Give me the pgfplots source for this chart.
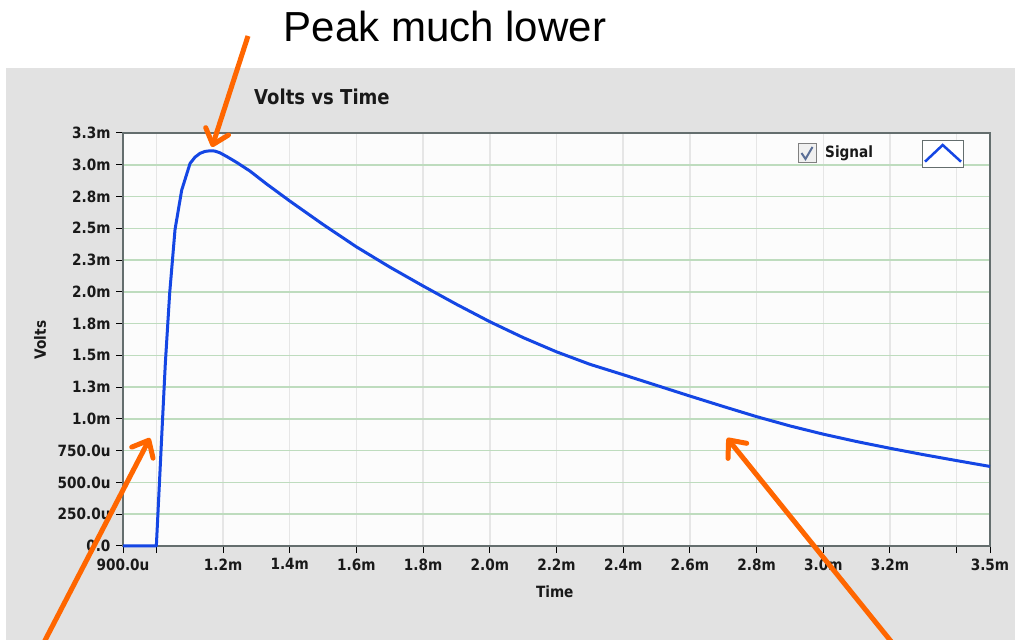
\documentclass[border=0pt]{standalone}
\usepackage{pgfplots}
\pgfplotsset{compat=1.18}
\usepackage{fontspec}
\usetikzlibrary{arrows.meta}
\setmainfont{DejaVu Sans}
\newfontfamily\lv{DejaVu Sans}[FakeStretch=0.88]
\newfontfamily\arialf{Liberation Sans}
\definecolor{panel}{RGB}{226,226,226}
\definecolor{plotbg}{RGB}{252,252,252}
\definecolor{border}{RGB}{100,110,110}
\definecolor{ggrid}{RGB}{190,220,190}
\definecolor{vgrid}{RGB}{230,230,230}
\definecolor{sig}{RGB}{20,70,228}
\definecolor{arr}{RGB}{255,102,0}
\definecolor{chk}{RGB}{90,110,150}
\begin{document}
\begin{tikzpicture}[x=1pt,y=1pt]
\path[use as bounding box] (0,0) rectangle (1015,640);
\fill[white] (0,0) rectangle (1015,640);
\fill[panel] (6,0) rectangle (1015,572);
\begin{axis}[
  at={(123pt,94pt)}, anchor=south west,
  scale only axis, width=867pt, height=413pt,
  xmin=0.9, xmax=3.5, ymin=0, ymax=3.25,
  clip=false,
  axis background/.style={fill=plotbg},
  axis line style={draw=border, line width=1.5pt},
  xtick={0.9,1.0,1.2,1.4,1.6,1.8,2.0,2.2,2.4,2.6,2.8,3.0,3.2,3.4,3.5},
  xticklabels={900.0u,,1.2m,1.4m,1.6m,1.8m,2.0m,2.2m,2.4m,2.6m,2.8m,3.0m,3.2m,,3.5m},
  ytick={0,0.25,0.5,0.75,1.0,1.25,1.5,1.75,2.0,2.25,2.5,2.75,3.0,3.25},
  yticklabels={0.0,250.0u,500.0u,750.0u,1.0m,1.3m,1.5m,1.8m,2.0m,2.3m,2.5m,2.8m,3.0m,3.3m},
  tick align=outside, major tick length=7pt,
  tick style={black, line width=1pt},
  xtick pos=bottom, ytick pos=left,
  xmajorgrids, ymajorgrids,
  x grid style={vgrid, line width=1.5pt},
  y grid style={ggrid, line width=1.5pt},
  tick label style={font=\lv\bfseries\fontsize{15.5pt}{18pt}\selectfont, text=black!90},
  xticklabel style={yshift=-2pt},
  yticklabel style={xshift=-2pt},
  title={Volts vs Time},
  title style={at={(axis description cs:0.2295,1.0726)}, anchor=center,
    font=\lv\bfseries\fontsize{20.5pt}{24pt}\selectfont, text=black!90},
  xlabel={Time},
  xlabel style={at={(axis description cs:0.498,-0.111)}, anchor=center,
    font=\lv\bfseries\fontsize{15.5pt}{18pt}\selectfont, text=black!90},
  ylabel={Volts},
  ylabel style={at={(axis description cs:-0.0957,0.4988)}, anchor=center,
    font=\lv\bfseries\fontsize{15.5pt}{18pt}\selectfont, text=black!90},
]
\addplot[sig, line width=3pt, line join=round, mark=none] table {
t v
0.900 0.000
1.000 0.000
1.017 0.910
1.027 1.440
1.040 1.990
1.056 2.490
1.076 2.800
1.101 3.010
1.116 3.060
1.131 3.090
1.146 3.105
1.161 3.110
1.175 3.108
1.190 3.095
1.211 3.065
1.240 3.020
1.281 2.950
1.330 2.850
1.400 2.715
1.500 2.530
1.600 2.354
1.700 2.195
1.800 2.046
1.900 1.902
2.000 1.765
2.100 1.640
2.200 1.528
2.300 1.430
2.400 1.348
2.500 1.264
2.600 1.180
2.700 1.098
2.800 1.018
2.900 0.945
3.000 0.880
3.100 0.822
3.200 0.769
3.300 0.719
3.400 0.672
3.500 0.626
};
\end{axis}
% legend
\draw[gray, fill=gray!12, line width=1pt] (798,477) rectangle (816,496);
\draw[chk, line width=2pt] (801.5,487) -- (805.5,481) -- (812.5,493);
\node[anchor=west, inner sep=0pt, font=\lv\bfseries\fontsize{15.5pt}{18pt}\selectfont, text=black!90] at (825,487) {Signal};
\draw[border, fill=white, line width=1pt] (922,472) rectangle (963,499);
\draw[sig, line width=2.5pt] (925,478.3) -- (942.7,495) -- (961,478.3);
% annotations
\node[font=\arialf\fontsize{42pt}{48pt}\selectfont, text=black] at (445,614) {Peak much lower};
\begin{scope}
\clip (0,0) rectangle (1015,640);
\draw[arr, line width=5pt, -{Straight Barb[length=14pt, width=24pt, round]}] (248,604) -- (212,493);
\draw[arr, line width=5pt, -{Straight Barb[length=14pt, width=24pt, round]}] (40,-10) -- (150,202);
\draw[arr, line width=5pt, -{Straight Barb[length=14pt, width=24pt, round]}] (898,-10) -- (727,202);
\end{scope}
\end{tikzpicture}
\end{document}
